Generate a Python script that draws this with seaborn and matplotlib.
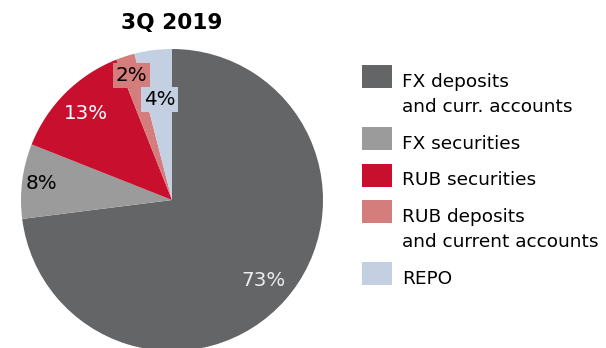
import matplotlib
matplotlib.use("Agg")
import matplotlib.pyplot as plt
from matplotlib.patches import Rectangle
import numpy as np
import seaborn as sns

# Portfolio structure, 3Q 2019
title = "3Q 2019"
categories = ["FX deposits\nand curr. accounts", "FX securities", "RUB securities",
              "RUB deposits\nand current accounts", "REPO"]
shares = [73, 8, 13, 2, 4]
colors = ["#646567", "#9b9b9b", "#c8102e", "#d47d7d", "#c5cfe2"]

# per-slice label styling
label_colors = ["#ececec", "black", "white", "black", "black"]
label_radius = [0.81, 0.87, 0.81, 0.87, 0.67]
label_boxed = [False, False, False, True, True]

sns.set_theme(style="white")
plt.rcParams["font.family"] = ["DejaVu Sans"]

W, H = 606, 348
fig = plt.figure(figsize=(W / 100, H / 100), dpi=100)

# pie placed by its centre and radius in pixels
cx, cy, r = 172, 200, 151
ax = fig.add_axes([(cx - r) / W, (H - cy - r) / H, 2 * r / W, 2 * r / H])
palette = sns.color_palette(colors)
wedges, _ = ax.pie(shares, colors=palette, startangle=90, counterclock=False,
                   radius=1, wedgeprops=dict(linewidth=0))
ax.set_xlim(-1, 1)
ax.set_ylim(-1, 1)
ax.set_aspect("auto")
ax.axis("off")

for w, val, rr, c, boxed in zip(wedges, shares, label_radius, label_colors, label_boxed):
    mid = np.deg2rad((w.theta1 + w.theta2) / 2)
    kw = {}
    if boxed:
        kw["bbox"] = dict(boxstyle="square,pad=0.15", fc=w.get_facecolor(), ec="none")
    ax.text(rr * np.cos(mid), rr * np.sin(mid), f"{val}%", ha="center", va="center",
            fontsize=14.3, color=c, **kw)

fig.text(cx / W, 1 - 29.3 / H, title, ha="center", va="baseline",
         fontsize=15.6, fontweight="bold", color="black")

# legend on the right: swatch aligned with the first line of each label
top = 65
for w, lab in zip(wedges, categories):
    lines = lab.split("\n")
    fig.patches.append(Rectangle((362 / W, 1 - (top + 23) / H), 30 / W, 23 / H,
                                 transform=fig.transFigure, fc=w.get_facecolor(), ec="none"))
    for i, line in enumerate(lines):
        fig.text(402 / W, 1 - (top + 21.7 + 25.5 * i) / H, line, fontsize=13.3,
                 va="baseline", ha="left", color="black")
    top += 36.5 + 25.5 * (len(lines) - 1)

fig.savefig("out.png", dpi=100)
